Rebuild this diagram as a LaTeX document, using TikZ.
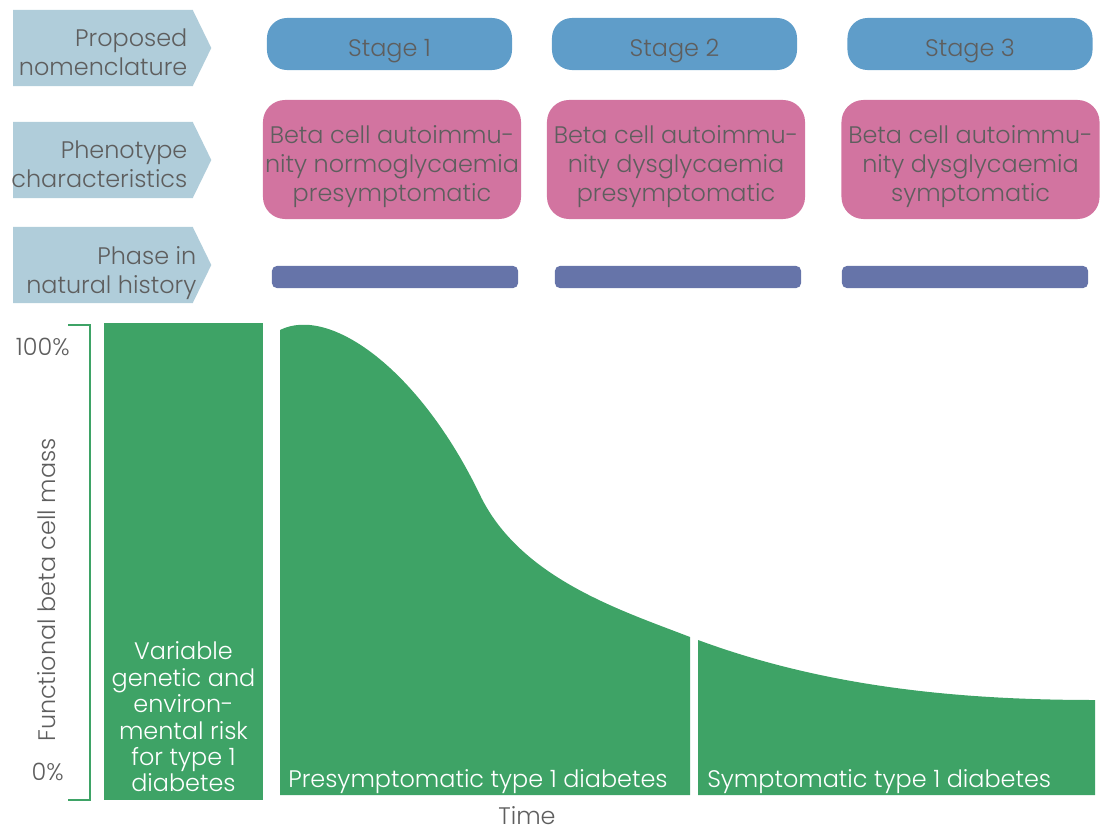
\documentclass[tikz,border=0pt]{standalone}
\usepackage{fontspec}
\setmainfont{Poppins Light}
\usepackage{xcolor}
\usetikzlibrary{shapes.symbols}
\usetikzlibrary{positioning}

\definecolor{chevblue}{HTML}{B0CDDA}
\definecolor{stageblue}{HTML}{5F9DC9}
\definecolor{phenpink}{HTML}{D274A0}
\definecolor{phasebar}{HTML}{6674A9}
\definecolor{massgreen}{HTML}{3EA366}
\definecolor{txtgray}{HTML}{5E5E5E}

\begin{document}
\begin{tikzpicture}[x=0.025cm,y=-0.025cm,font=\fontsize{17}{20.6}\selectfont,text=txtgray]
		\tikzstyle{chev}=[signal, signal to=east, signal pointer angle=128, fill=chevblue, minimum width=4.95cm, minimum height=1.9cm, inner sep=0pt]
		\tikzstyle{hdtxt}=[anchor=east, align=right, inner sep=0pt]
		\tikzstyle{stagebox}=[fill=stageblue, rounded corners=0.5cm, minimum width=6.125cm, minimum height=1.3cm]
		\tikzstyle{phenbox}=[fill=phenpink, rounded corners=0.55cm, minimum width=6.45cm, minimum height=2.975cm]
		\tikzstyle{boxtxt}=[align=center, inner sep=0pt]
		\tikzstyle{barbox}=[fill=phasebar, rounded corners=0.12cm, minimum width=6.15cm, minimum height=0.55cm]
		\tikzstyle{wtxt}=[text=white, inner sep=0pt]
		\useasboundingbox (0,0) rectangle (1103,828);
			% row headings
			\node[chev] (nom)  at (103,48) {};
			\node[chev] (phen) at (103,160) {};
			\node[chev] (hist) at (103,265) {};
			\node[hdtxt] (nomtxt)  at ([xshift=-0.6cm,yshift=-0.1cm]nom.east)  {Proposed\\nomenclature};
			\node[hdtxt] (phentxt) at ([xshift=-0.6cm,yshift=-0.1cm]phen.east) {Phenotype\\characteristics};
			\node[hdtxt] (histtxt) at ([xshift=-0.375cm,yshift=-0.2cm]hist.east) {Phase in\\natural history};
			% stages
			\node[stagebox] (st1) at (389.5,44) {};
			\node[stagebox] (st2) at (674.5,44) {};
			\node[stagebox] (st3) at (970,44) {};
			\node[boxtxt] (st1txt) at ([yshift=-0.175cm]st1.center) {Stage 1};
			\node[boxtxt] (st2txt) at ([yshift=-0.175cm]st2.center) {Stage 2};
			\node[boxtxt] (st3txt) at ([yshift=-0.175cm]st3.center) {Stage 3};
			\node[phenbox] (ph1) at (392,159.5) {};
			\node[phenbox] (ph2) at (676,159.5) {};
			\node[phenbox] (ph3) at (970.5,159.5) {};
			\node[boxtxt] (ph1txt) at ([yshift=-0.175cm]ph1.center) {Beta cell autoimmu-\\nity normoglycaemia\\presymptomatic};
			\node[boxtxt] (ph2txt) at ([yshift=-0.175cm]ph2.center) {Beta cell autoimmu-\\nity dysglycaemia\\presymptomatic};
			\node[boxtxt] (ph3txt) at ([yshift=-0.175cm]ph3.center) {Beta cell autoimmu-\\nity dysglycaemia\\symptomatic};
			\node[barbox] (bar1) at (395,277) {};
			\node[barbox] (bar2) at (678,277) {};
			\node[barbox] (bar3) at (965,277) {};
			% axis
			\draw[massgreen, line width=1.4pt] (68,325) -- (90,325) -- (90,800) -- (68,800);
			\node[anchor=east, inner sep=0pt] (full) at (70,347) {100\%};
			\node[anchor=east, inner sep=0pt] (none) at (64,772) {0\%};
			\node[rotate=90, inner sep=0pt] (ylab) at (47,590) {Functional beta cell mass};
			\node[inner sep=0pt] (time) at (527,816) {Time};
			% beta cell mass
			\node[fill=massgreen, minimum width=3.975cm, minimum height=11.925cm, inner sep=0pt] (risk) at (183.5,561.5) {};
			\fill[massgreen] (280,795) -- (280,330) .. controls (330,305) and (420,370) .. (480,495)
				.. controls (520,578) and (620,610) .. (690,637) -- (690,795) -- cycle;
			\fill[massgreen] (698,795) -- (698,640) .. controls (820,685) and (950,700) .. (1095,700) -- (1095,795) -- cycle;
			\node[wtxt, align=center, anchor=south, font=\fontsize{17}{18.8}\selectfont] (risktxt) at ([yshift=0.2cm]risk.south) {Variable\\genetic and\\environ-\\mental risk\\for type 1\\diabetes};
			\node[wtxt, anchor=base west] (pretxt) at (288,787) {Presymptomatic type 1 diabetes};
			\node[wtxt, anchor=base west] (symtxt) at (707,787) {Symptomatic type 1 diabetes};
\end{tikzpicture}
\end{document}
